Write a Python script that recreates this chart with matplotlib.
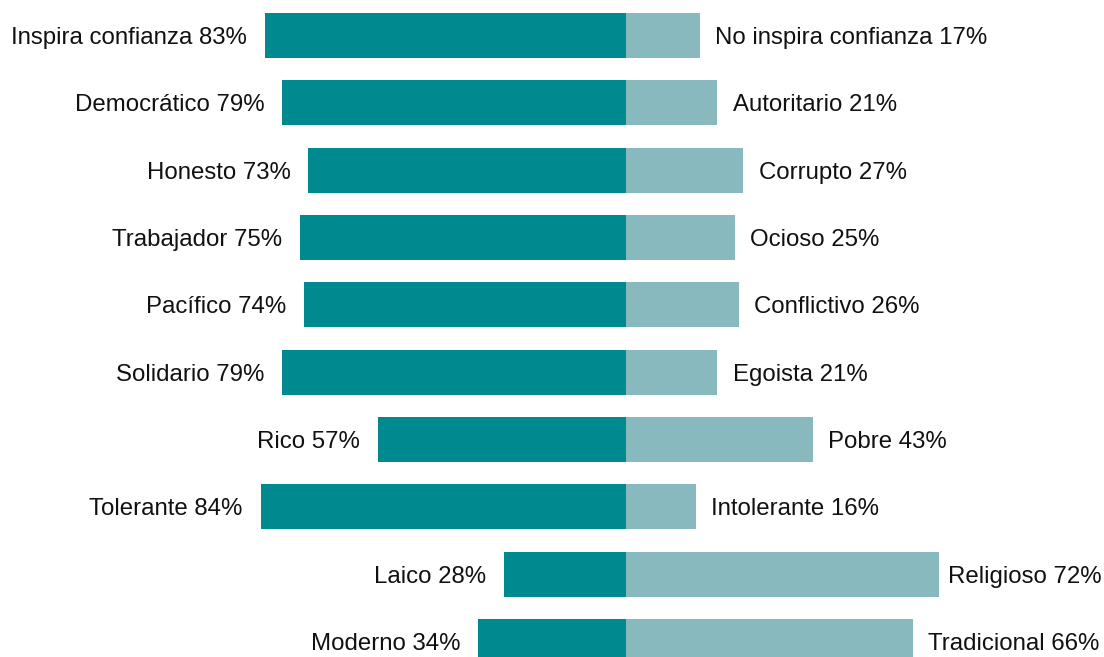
import matplotlib
matplotlib.use("Agg")
import matplotlib.pyplot as plt

left_labels = ["Inspira confianza", "Democrático", "Honesto", "Trabajador", "Pacífico",
               "Solidario", "Rico", "Tolerante", "Laico", "Moderno"]
left_values = [83, 79, 73, 75, 74, 79, 57, 84, 28, 34]
right_labels = ["No inspira confianza", "Autoritario", "Corrupto", "Ocioso", "Conflictivo",
                "Egoista", "Pobre", "Intolerante", "Religioso", "Tradicional"]
right_values = [17, 21, 27, 25, 26, 21, 43, 16, 72, 66]

dark = "#008A90"
light = "#87B9BE"

plt.rcParams['font.family'] = ['Liberation Sans', 'DejaVu Sans']
fig = plt.figure(figsize=(11.04, 6.57), dpi=100)
ax = fig.add_axes([0, 0, 1, 1])

pxper = 4.35
xmin = -626 / pxper
xmax = (1104 - 626) / pxper
ax.set_xlim(xmin, xmax)
sp = 67.33
ytop = -(35.5) / sp
ybot = (657 - 35.5) / sp
ax.set_ylim(ybot, ytop)

n = len(left_values)
ys = list(range(n))
h = 45 / sp
ax.barh(ys, [-v for v in left_values], height=h, color=dark, linewidth=0)
ax.barh(ys, right_values, height=h, color=light, linewidth=0)

right_texts = []
for i in range(n):
    ax.annotate(f"{left_labels[i]} {left_values[i]}%", xy=(-left_values[i], i),
                xytext=(-13, 0), textcoords="offset points", ha="right", va="center_baseline",
                fontsize=17.3, color="#111111")
    t = ax.annotate(f"{right_labels[i]} {right_values[i]}%", xy=(right_values[i], i),
                    xytext=(11, 0), textcoords="offset points", ha="left", va="center_baseline",
                    fontsize=17.3, color="#111111")
    right_texts.append(t)

# keep right labels inside the figure
fig.canvas.draw()
r = fig.canvas.get_renderer()
W = fig.bbox.width
for t in right_texts:
    bb = t.get_window_extent(r)
    if bb.x1 > W - 2:
        shift_px = bb.x1 - (W - 2)
        x0, y0 = t.get_position()
        t.set_position((x0 - shift_px * 72 / fig.dpi, y0))

ax.axis("off")
fig.savefig("out.png", dpi=100)
